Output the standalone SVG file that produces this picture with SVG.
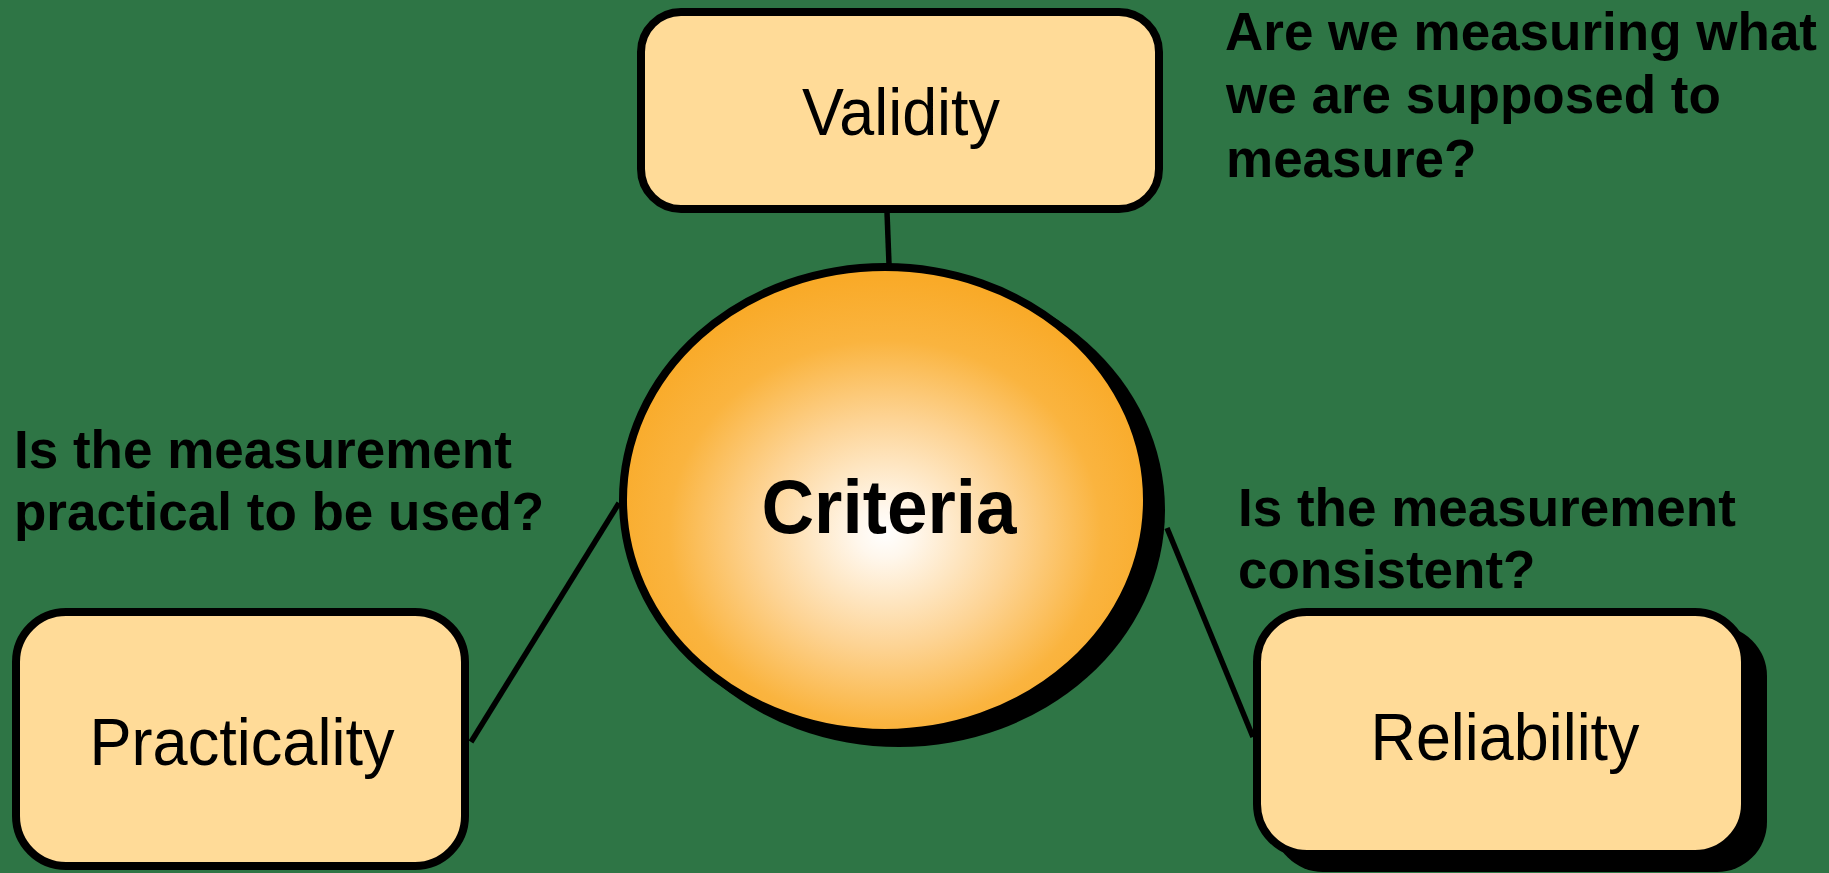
<svg xmlns="http://www.w3.org/2000/svg" width="1829" height="873" viewBox="0 0 1829 873">
  <defs>
    <radialGradient id="orb" cx="0.5" cy="0.57" r="0.55" gradientUnits="objectBoundingBox">
      <stop offset="0" stop-color="#FFFFFF"/>
      <stop offset="0.1" stop-color="#FFF7EC"/>
      <stop offset="0.45" stop-color="#FDD393"/>
      <stop offset="0.75" stop-color="#FAB43F"/>
      <stop offset="1" stop-color="#F9AA28"/>
    </radialGradient>
  </defs>
  <style>
    .box { fill: #FFDB98; stroke: #000; stroke-width: 8; }
    .shadow { fill: #000; }
    .lbl { font-family: "Liberation Sans", Arial, sans-serif; font-size: 66px; fill: #000; text-anchor: middle; }
    .q { font-family: "Liberation Sans", Arial, sans-serif; font-size: 53px; font-weight: bold; fill: #000; }
    .conn { stroke: #000; stroke-width: 5.5; fill: none; }
  </style>
  <rect x="0" y="0" width="1829" height="873" fill="#2E7545"/>

  <g id="connectors">
    <line class="conn" x1="887" y1="212" x2="889" y2="264"/>
    <line class="conn" x1="619" y1="503" x2="471" y2="742"/>
    <line class="conn" x1="1167" y1="528" x2="1253" y2="737"/>
  </g>

  <g id="criteria">
    <ellipse class="shadow" cx="899" cy="510" rx="266" ry="237"/>
    <ellipse cx="885" cy="500" rx="262" ry="233" fill="url(#orb)" stroke="#000" stroke-width="8"/>
    <text x="889" y="533" font-family="'Liberation Sans', Arial, sans-serif" font-size="76" font-weight="bold" text-anchor="middle" textLength="255" lengthAdjust="spacingAndGlyphs">Criteria</text>
  </g>

  <g id="validity">
    <rect class="box" x="641" y="12" width="518" height="197" rx="40" ry="40"/>
    <text class="lbl" x="901" y="135" textLength="198" lengthAdjust="spacingAndGlyphs">Validity</text>
  </g>

  <g id="practicality">
    <rect class="box" x="16" y="612" width="449" height="254" rx="50" ry="50"/>
    <text class="lbl" x="242" y="765" textLength="305" lengthAdjust="spacingAndGlyphs">Practicality</text>
  </g>

  <g id="reliability">
    <rect class="shadow" x="1273" y="626" width="494" height="246" rx="50" ry="50"/>
    <rect class="box" x="1257" y="612" width="488" height="242" rx="50" ry="50"/>
    <text class="lbl" x="1505" y="760" textLength="269" lengthAdjust="spacingAndGlyphs">Reliability</text>
  </g>

  <g id="question-validity">
    <text class="q" x="1225" y="50">Are we measuring what</text>
    <text class="q" x="1226" y="113">we are supposed to</text>
    <text class="q" x="1226" y="177">measure?</text>
  </g>

  <g id="question-practicality">
    <text class="q" x="14" y="468">Is the measurement</text>
    <text class="q" x="14" y="530">practical to be used?</text>
  </g>

  <g id="question-reliability">
    <text class="q" x="1238" y="526">Is the measurement</text>
    <text class="q" x="1238" y="588">consistent?</text>
  </g>
</svg>
